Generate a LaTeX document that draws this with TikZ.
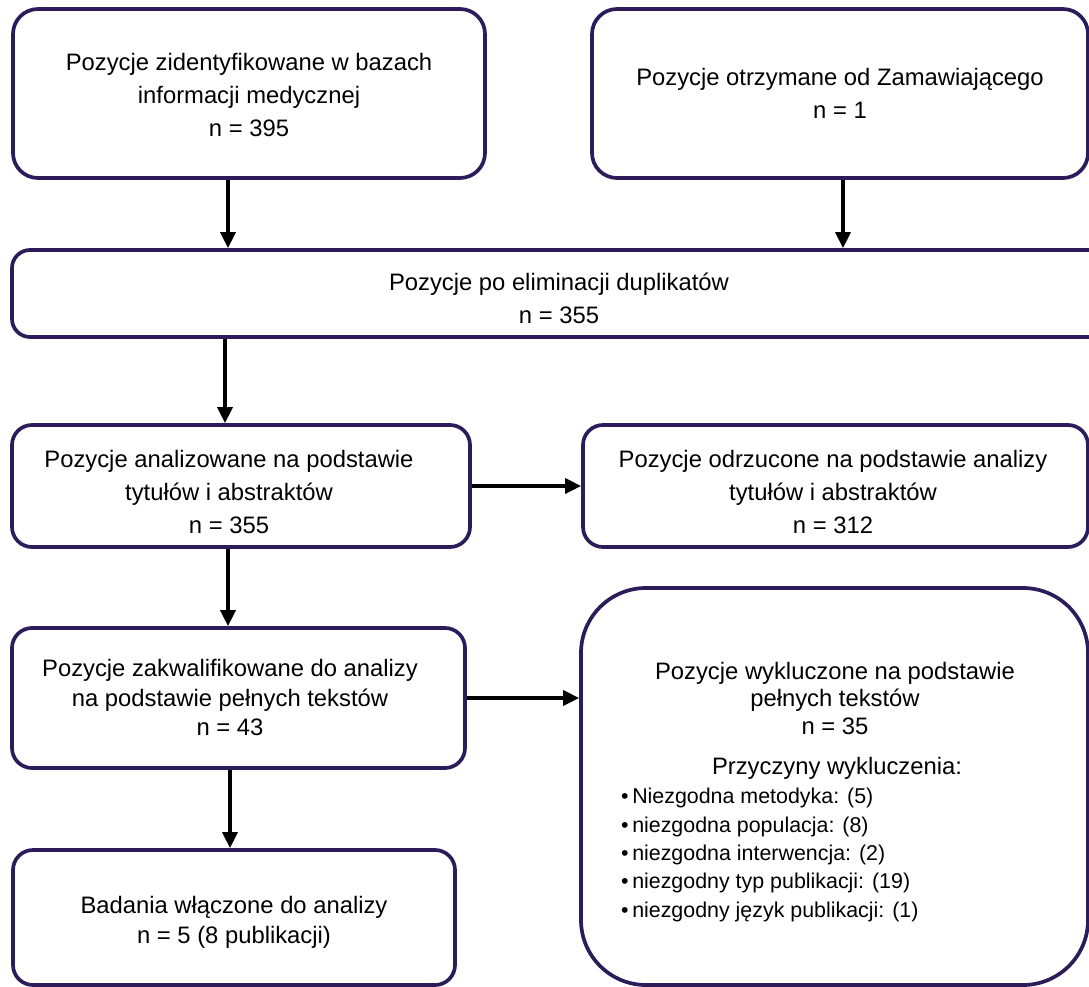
\documentclass[tikz,border=0pt]{standalone}
\usepackage{fontspec}
\setmainfont{Liberation Sans}
\usetikzlibrary{arrows.meta}
\definecolor{ramka}{RGB}{45,28,90}
\tikzset{
  box/.style={draw=ramka,line width=3.7pt,rounded corners=#1,inner sep=0pt},
  box/.default=20pt,
  txt/.style={align=center,inner sep=0pt,font=\fontsize{23.8}{33}\selectfont},
  arr/.style={-{Triangle[length=16pt,width=15pt]},line width=3.3pt,black}
}
\begin{document}
\begin{tikzpicture}[x=1pt,y=-1pt]
  \useasboundingbox (0,0) rectangle (1089,987);
  \node[box=25pt,minimum width=472pt,minimum height=169pt] (b1) at (249,93.5) {};
  \node[box=25pt,minimum width=496pt,minimum height=169pt] (b2) at (840,93.5) {};
  \node[box=18pt,minimum width=1094pt,minimum height=87pt] (b3) at (559,293.5) {};
  \node[box,minimum width=458pt,minimum height=122pt] (b4) at (241,486) {};
  \node[box,minimum width=505pt,minimum height=122pt] (b5) at (835.5,486) {};
  \node[box,minimum width=453pt,minimum height=140pt] (b6) at (238.5,698) {};
  \node[box=65pt,minimum width=507pt,minimum height=397pt] (b7) at (834.5,786.5) {};
  \node[box,minimum width=442pt,minimum height=135pt] (b8) at (234,917.5) {};

  \node[txt] (t1) at (249,95) {Pozycje zidentyfikowane w bazach\\informacji medycznej\\n = 395};
  \node[txt] (t2) at (840,93.5) {Pozycje otrzymane od Zamawiającego\\n = 1};
  \node[txt] (t3) at (559,298.5) {Pozycje po eliminacji duplikatów\\n = 355};
  \node[txt] (t4) at (229,492) {Pozycje analizowane na podstawie\\tytułów i abstraktów\\n = 355};
  \node[txt] (t5) at (833,492) {Pozycje odrzucone na podstawie analizy\\tytułów i abstraktów\\n = 312};
  \node[txt,font=\fontsize{23.8}{29.5}\selectfont] (t6) at (230,697.5)
    {Pozycje zakwalifikowane do analizy\\na podstawie pełnych tekstów\\n = 43};
  \node[txt,font=\fontsize{23.8}{27.5}\selectfont] (t7) at (835,698)
    {Pozycje wykluczone na podstawie\\pełnych tekstów\\n = 35};
  \node[txt] (t7h) at (837,768) {Przyczyny wykluczenia:};
  \node[txt,align=left,anchor=west,font=\fontsize{21.4}{28.3}\selectfont] (t7l) at (621,855)
    {•\,Niezgodna metodyka: (5)\\•\,niezgodna populacja: (8)\\•\,niezgodna interwencja: (2)\\
     •\,niezgodny typ publikacji: (19)\\•\,niezgodny język publikacji: (1)};
  \node[txt,font=\fontsize{23.8}{30}\selectfont] (t8) at (234,922)
    {Badania włączone do analizy\\n = 5 (8 publikacji)};

  \draw[arr] ([xshift=-21pt]b1.south) -- ([xshift=-21pt]b1.south |- b3.north);
  \draw[arr] ([xshift=3pt]b2.south) -- ([xshift=3pt]b2.south |- b3.north);
  \draw[arr] ([xshift=-16pt]b4.north |- b3.south) -- ([xshift=-16pt]b4.north);
  \draw[arr] (b4.east) -- (b4.east -| b5.west);
  \draw[arr] ([xshift=-13pt]b4.south) -- ([xshift=-13pt]b4.south |- b6.north);
  \draw[arr] (b6.east) -- (b6.east -| b7.west);
  \draw[arr] ([xshift=-8.5pt]b6.south) -- ([xshift=-8.5pt]b6.south |- b8.north);
\end{tikzpicture}
\end{document}
